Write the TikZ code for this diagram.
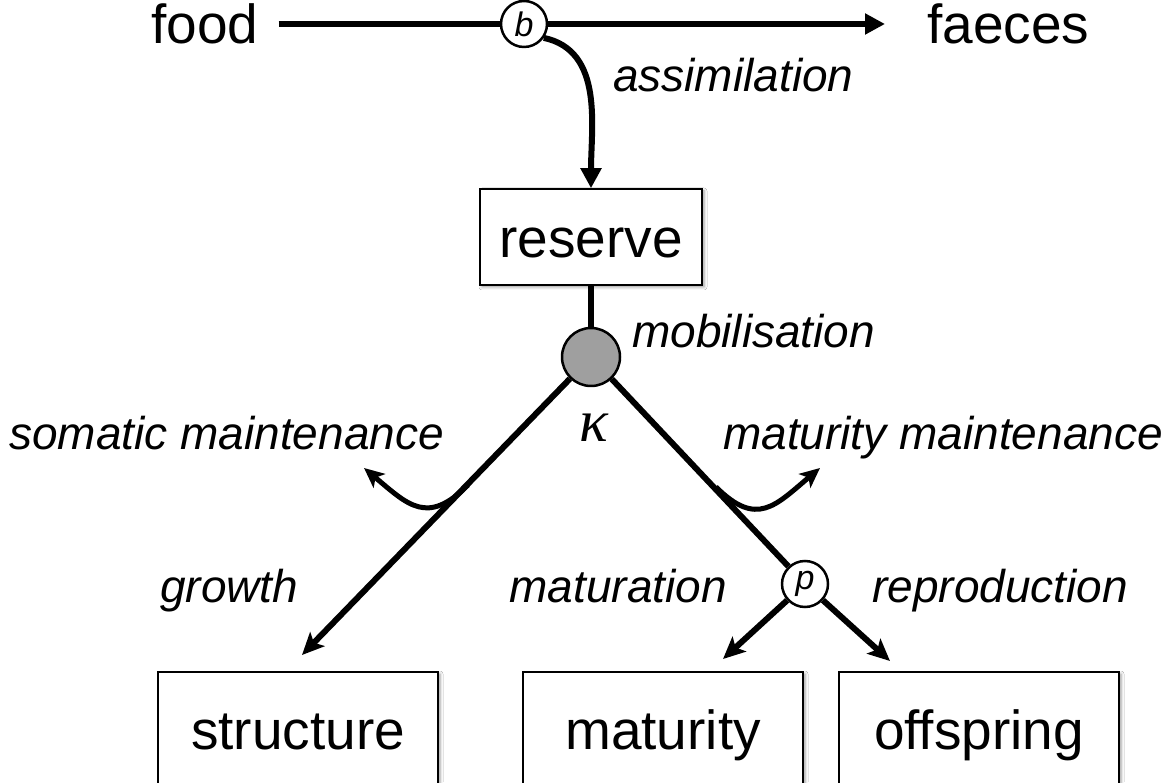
\documentclass[tikz,border=0pt]{standalone}
\usepackage{fontspec}
\setmainfont{Liberation Sans}
\newfontfamily\greekfont{Liberation Serif}
\usetikzlibrary{arrows.meta,positioning,shadows.blur}

\begin{document}
\begin{tikzpicture}[x=1pt,y=1pt,
          pool/.style={rectangle, draw, line width=1.5pt, fill=white, minimum width=222pt, minimum height=96pt, text height=46pt, text depth=4pt, font=\fontsize{55}{60}\selectfont, blur shadow={shadow xshift=2pt, shadow yshift=-2pt, shadow blur radius=3pt, shadow opacity=40}},
          junction/.style={circle, draw, line width=2.5pt, fill=white, minimum size=46pt, inner sep=0pt, font=\fontsize{34}{38}\selectfont\itshape},
          flux/.style={inner sep=0pt, font=\fontsize{46}{50}\selectfont\itshape},
          word/.style={inner sep=0pt, font=\fontsize{55}{60}\selectfont},
          trunk/.style={line width=6pt},
          flow/.style={line width=6pt, -{Triangle[length=20pt, width=20pt]}},
          split/.style={line width=6pt, -{Stealth[length=22pt, width=20pt, inset=5pt]}},
          drain/.style={line width=5pt, -{Stealth[length=20pt, width=18pt, inset=5pt]}}]
          \path[use as bounding box, fill=white] (0,0) rectangle (1172,782);

          \node[word, anchor=base] at (205,738) (food) {food};
          \node[word, anchor=base west] at (927,738) (faeces) {faeces};
          \draw[flow, shorten <=20pt, shorten >=42pt] (food.east |- 0,758) -- (faeces.west |- 0,758);
          \node[junction] at (524,758) (b) {b};

          \node[pool] at (591,545) (reserve) {reserve};
          \draw[flow] (b.-35) to[out=-12, in=90] (reserve.north);
          \node[flux, anchor=base west] at (613,690) (assim) {assimilation};

          \node[junction, minimum size=58pt, fill=gray!75!white] at (591,425) (kappa) {};
          \draw[trunk] (reserve) -- (kappa);
          \node[flux, anchor=base west] at (632,434) (mob) {mobilisation};
          \node[font=\fontsize{60}{60}\selectfont\greekfont\itshape, inner sep=0pt] at (594,354) (kap) {κ};

          \node[junction] at (805,198) (p) {p};
          \coordinate (growthtip) at (302,127);
          \coordinate (matip) at (723,123);
          \coordinate (offtip) at (890,121);
          \draw[split] (kappa) -- (growthtip);
          \draw[trunk] (kappa) -- (p);
          \draw[split] (p) -- (matip);
          \draw[split] (p) -- (offtip);

          \coordinate (soma) at (468,297);
          \coordinate (somatip) at (364,314);
          \coordinate (matu) at (716,295);
          \coordinate (matutip) at (820,314);
          \draw[drain] (soma) to[out=225, in=-40, looseness=1.4] (somatip);
          \draw[drain] (matu) to[out=-45, in=220, looseness=1.4] (matutip);
          \node[flux, anchor=base west] at (9,332) (somlbl) {somatic maintenance};
          \node[flux, anchor=base west] at (723,332) (matlbl) {maturity maintenance};

          \node[flux, anchor=base west] at (160,179) (growth) {growth};
          \node[flux, anchor=base east] at (727,179) (maturation) {maturation};
          \node[flux, anchor=base west] at (872,179) (repro) {reproduction};

          \node[pool, minimum width=280pt, minimum height=112pt] at (298,54) (structure) {structure};
          \node[pool, minimum width=280pt, minimum height=112pt] at (663,54) (maturity) {maturity};
          \node[pool, minimum width=280pt, minimum height=112pt] at (979,54) (offspring) {offspring};
        \end{tikzpicture}
\end{document}
